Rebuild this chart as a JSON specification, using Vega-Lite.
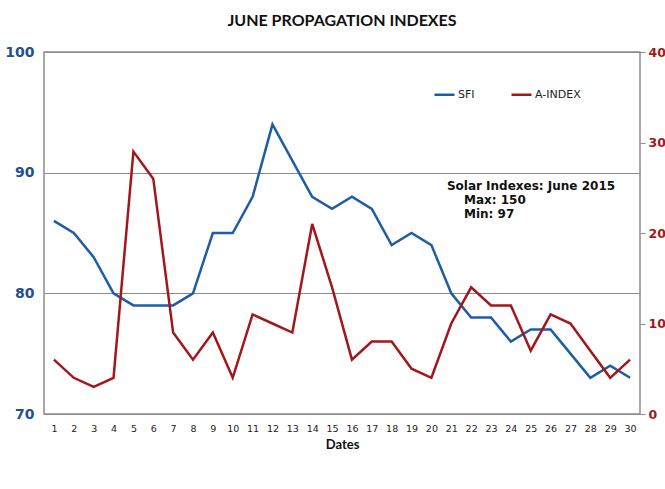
{
  "$schema": "https://vega.github.io/schema/vega-lite/v6.json",
  "width": 596,
  "height": 362,
  "autosize": "none",
  "padding": {"left": 44, "top": 52, "right": 25, "bottom": 75},
  "background": "white",
  "title": {
    "text": "JUNE PROPAGATION  INDEXES",
    "anchor": "middle",
    "font": "Lato",
    "fontSize": 16,
    "fontWeight": "bold",
    "color": "#111111",
    "offset": 16
  },
  "config": {
    "view": {"stroke": "#8c8c8c", "strokeWidth": 1.5},
    "font": "DejaVu Sans",
    "axisX": {
      "titleFont": "Lato",
      "titleFontSize": 13,
      "titleFontWeight": "bold",
      "titleColor": "#111111",
      "titlePadding": 6,
      "grid": false,
      "ticks": false,
      "domain": false,
      "labelFontSize": 9.5,
      "labelColor": "#222222",
      "labelPadding": 9,
      "labelFlush": false,
      "labelOverlap": false
    }
  },
  "datasets": {
    "indexes": [
      {"date": 1, "sfi": 86, "aindex": 6},
      {"date": 2, "sfi": 85, "aindex": 4},
      {"date": 3, "sfi": 83, "aindex": 3},
      {"date": 4, "sfi": 80, "aindex": 4},
      {"date": 5, "sfi": 79, "aindex": 29},
      {"date": 6, "sfi": 79, "aindex": 26},
      {"date": 7, "sfi": 79, "aindex": 9},
      {"date": 8, "sfi": 80, "aindex": 6},
      {"date": 9, "sfi": 85, "aindex": 9},
      {"date": 10, "sfi": 85, "aindex": 4},
      {"date": 11, "sfi": 88, "aindex": 11},
      {"date": 12, "sfi": 94, "aindex": 10},
      {"date": 13, "sfi": 91, "aindex": 9},
      {"date": 14, "sfi": 88, "aindex": 21},
      {"date": 15, "sfi": 87, "aindex": 14},
      {"date": 16, "sfi": 88, "aindex": 6},
      {"date": 17, "sfi": 87, "aindex": 8},
      {"date": 18, "sfi": 84, "aindex": 8},
      {"date": 19, "sfi": 85, "aindex": 5},
      {"date": 20, "sfi": 84, "aindex": 4},
      {"date": 21, "sfi": 80, "aindex": 10},
      {"date": 22, "sfi": 78, "aindex": 14},
      {"date": 23, "sfi": 78, "aindex": 12},
      {"date": 24, "sfi": 76, "aindex": 12},
      {"date": 25, "sfi": 77, "aindex": 7},
      {"date": 26, "sfi": 77, "aindex": 11},
      {"date": 27, "sfi": 75, "aindex": 10},
      {"date": 28, "sfi": 73, "aindex": 7},
      {"date": 29, "sfi": 74, "aindex": 4},
      {"date": 30, "sfi": 73, "aindex": 6}
    ],
    "note": [
      {"label": "Solar Indexes: June 2015"}
    ]
  },
  "data": {"name": "indexes"},
  "layer": [
    {
      "layer": [
        {
          "mark": {"type": "line", "strokeWidth": 2.5},
          "encoding": {
            "x": {
              "field": "date",
              "type": "quantitative",
              "scale": {"domain": [0.5, 30.5], "nice": false, "zero": false},
              "axis": {"title": "Dates", "values": [1,2,3,4,5,6,7,8,9,10,11,12,13,14,15,16,17,18,19,20,21,22,23,24,25,26,27,28,29,30]}
            },
            "y": {
              "field": "sfi",
              "type": "quantitative",
              "scale": {"domain": [70, 100], "nice": false, "zero": false},
              "axis": {
                "title": null,
                "orient": "left",
                "values": [70, 80, 90, 100],
                "grid": true,
                "gridColor": "#8c8c8c",
                "gridWidth": 1.2,
                "ticks": false,
                "domain": false,
                "labelColor": "#1f4f97",
                "labelFontSize": 14,
                "labelFontWeight": "bold",
                "labelPadding": 10,
                "labelFlush": false
              }
            },
            "color": {
              "datum": "SFI",
              "type": "nominal",
              "scale": {"domain": ["SFI", "A-INDEX"], "range": ["#1f5ca6", "#a3171b"]},
              "legend": {
                "title": null,
                "orient": "none",
                "direction": "horizontal",
                "legendX": 389,
                "legendY": 31,
                "symbolType": "stroke",
                "symbolSize": 400,
                "symbolStrokeWidth": 2.5,
                "labelFontSize": 11,
                "labelColor": "#222222",
                "labelOffset": 2,
                "columnPadding": 31
              }
            }
          }
        },
        {
          "data": {"name": "note"},
          "mark": {"type": "text", "align": "left", "baseline": "middle", "font": "DejaVu Sans", "fontWeight": "bold", "fontSize": 12, "color": "#111111"},
          "encoding": {
            "x": {"datum": 20.78, "type": "quantitative", "axis": {"title": "Dates", "values": [1,2,3,4,5,6,7,8,9,10,11,12,13,14,15,16,17,18,19,20,21,22,23,24,25,26,27,28,29,30]}},
            "y": {"datum": 88.9, "type": "quantitative"},
            "text": {"field": "label"}
          }
        },
        {
          "data": {"name": "note"},
          "mark": {"type": "text", "align": "left", "baseline": "middle", "font": "DejaVu Sans", "fontWeight": "bold", "fontSize": 12, "color": "#111111", "text": "Max: 150"},
          "encoding": {
            "x": {"datum": 21.64, "type": "quantitative", "axis": {"title": "Dates", "values": [1,2,3,4,5,6,7,8,9,10,11,12,13,14,15,16,17,18,19,20,21,22,23,24,25,26,27,28,29,30]}},
            "y": {"datum": 87.75, "type": "quantitative"}
          }
        },
        {
          "data": {"name": "note"},
          "mark": {"type": "text", "align": "left", "baseline": "middle", "font": "DejaVu Sans", "fontWeight": "bold", "fontSize": 12, "color": "#111111", "text": "Min: 97"},
          "encoding": {
            "x": {"datum": 21.64, "type": "quantitative", "axis": {"title": "Dates", "values": [1,2,3,4,5,6,7,8,9,10,11,12,13,14,15,16,17,18,19,20,21,22,23,24,25,26,27,28,29,30]}},
            "y": {"datum": 86.6, "type": "quantitative"}
          }
        }
      ]
    },
    {
      "mark": {"type": "line", "strokeWidth": 2.5},
      "encoding": {
        "x": {"field": "date", "type": "quantitative", "axis": {"title": "Dates", "values": [1,2,3,4,5,6,7,8,9,10,11,12,13,14,15,16,17,18,19,20,21,22,23,24,25,26,27,28,29,30]}},
        "y": {
          "field": "aindex",
          "type": "quantitative",
          "scale": {"domain": [0, 40], "nice": false},
          "axis": {
            "title": null,
            "orient": "right",
            "values": [0, 10, 20, 30, 40],
            "grid": false,
            "ticks": true,
            "tickSize": 5,
            "tickColor": "#8c8c8c",
            "domain": false,
            "labelColor": "#a3171b",
            "labelFontSize": 12.5,
            "labelFontWeight": "bold",
            "labelPadding": 3,
            "labelFlush": false
          }
        },
        "color": {"datum": "A-INDEX", "type": "nominal"}
      }
    }
  ],
  "resolve": {"scale": {"y": "independent"}}
}
